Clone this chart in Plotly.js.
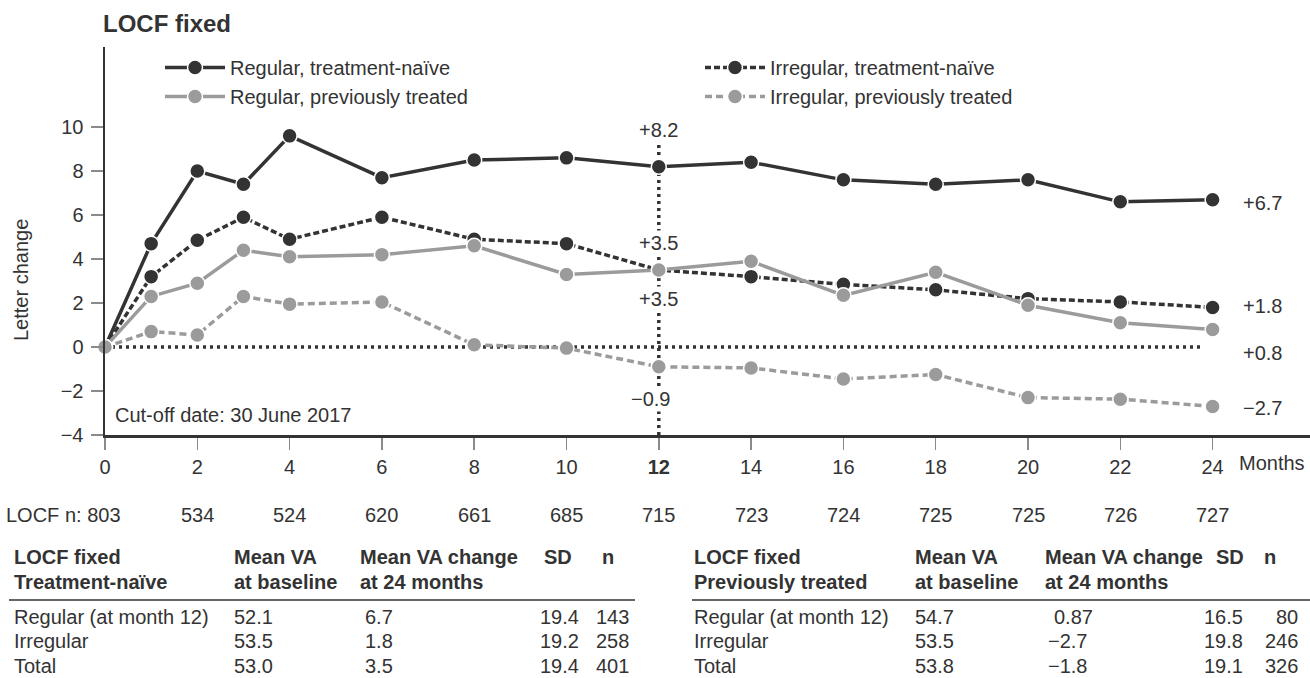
<!DOCTYPE html>
<html>
<head>
<meta charset="utf-8">
<script src="https://cdn.plot.ly/plotly-3.0.1.min.js"></script>
<style>
  html, body { margin: 0; padding: 0; background: #ffffff; }
  #chart { width: 1310px; height: 678px; }
</style>
</head>
<body>
<div id="chart"></div>
<script>
// Mean letter change from baseline, LOCF fixed
const months = [0, 1, 2, 3, 4, 6, 8, 10, 12, 14, 16, 18, 20, 22, 24];
const regularNaive     = [0, 4.7, 8.0, 7.4, 9.6, 7.7, 8.5, 8.6, 8.2, 8.4, 7.6, 7.4, 7.6, 6.6, 6.7];
const irregularNaive   = [0, 3.2, 4.85, 5.9, 4.9, 5.9, 4.9, 4.7, 3.5, 3.2, 2.85, 2.6, 2.2, 2.05, 1.8];
const regularTreated   = [0, 2.3, 2.9, 4.4, 4.1, 4.2, 4.6, 3.3, 3.5, 3.9, 2.35, 3.4, 1.9, 1.1, 0.8];
const irregularTreated = [0, 0.7, 0.55, 2.3, 1.95, 2.05, 0.1, -0.05, -0.9, -0.95, -1.45, -1.25, -2.3, -2.37, -2.7];

const seriesNames = [
  'Regular, treatment-naïve',
  'Irregular, treatment-naïve',
  'Regular, previously treated',
  'Irregular, previously treated'
];

// axis ticks
const xTicks = [0, 2, 4, 6, 8, 10, 12, 14, 16, 18, 20, 22, 24];
const xTickText = ['0', '2', '4', '6', '8', '10', '<b>12</b>', '14', '16', '18', '20', '22', '24'];
const yTicks = [-4, -2, 0, 2, 4, 6, 8, 10];
const yTickText = ['\u22124', '\u22122', '0', '2', '4', '6', '8', '10'];

// value labels at month 12 and month 24
const month12Labels = ['+8.2', '+3.5', '+3.5', '\u22120.9'];
const month24Labels = ['+6.7', '+1.8', '+0.8', '\u22122.7'];

// patients per visit
const nMonths = [0, 2, 4, 6, 8, 10, 12, 14, 16, 18, 20, 22, 24];
const nValues = [803, 534, 524, 620, 661, 685, 715, 723, 724, 725, 725, 726, 727];

// summary tables
const tableHeader = ['Mean VA', 'at baseline', 'Mean VA change', 'at 24 months', 'SD', 'n'];
const rowLabels = ['Regular (at month 12)', 'Irregular', 'Total'];
const naiveBaseline = ['52.1', '53.5', '53.0'];
const naiveChange = ['6.7', '1.8', '3.5'];
const naiveSD = ['19.4', '19.2', '19.4'];
const naiveN = ['143', '258', '401'];
const treatedBaseline = ['54.7', '53.5', '53.8'];
const treatedChange = ['0.87', '\u22122.7', '\u22121.8'];
const treatedSD = ['16.5', '19.8', '19.1'];
const treatedN = ['80', '246', '326'];

// ---- layout geometry ----
const W = 1310, H = 678;
const M = { l: 105, r: 0, t: 47, b: 243 };
const plotW = W - M.l - M.r, plotH = H - M.t - M.b;
const px2x = px => (px - M.l) / plotW;
const px2y = py => (H - M.b - py) / plotH;

const DARK = '#333333';
const GRAY = '#9b9b9b';
const FONT = 'Liberation Sans, Arial, Helvetica, sans-serif';

function series(name, y, color, dash, legend) {
  return {
    x: months, y: y, name: name, type: 'scatter', mode: 'lines+markers',
    line: { color: color, width: 3.5, dash: dash },
    marker: { color: color, size: 15, line: { color: '#ffffff', width: 1.5 } },
    cliponaxis: false, legend: legend, legendgroup: name, hoverinfo: 'x+y'
  };
}

const traces = [
  series(seriesNames[0], regularNaive, DARK, 'solid', 'legend'),
  series(seriesNames[1], irregularNaive, DARK, '6px,3px', 'legend2'),
  series(seriesNames[2], regularTreated, GRAY, 'solid', 'legend'),
  series(seriesNames[3], irregularTreated, GRAY, '7px,4px', 'legend2')
];

const annotations = [];
function txt(px, py, text, anchor, opts) {
  annotations.push(Object.assign({
    xref: 'paper', yref: 'paper', x: px2x(px), y: px2y(py),
    xanchor: anchor || 'left', yanchor: 'middle', showarrow: false,
    text: text, font: { family: FONT, size: 20, color: DARK }
  }, opts || {}));
}

// value labels on the month-12 marker line
const m12Y = [9.85, 4.73, 2.18, -2.36];
month12Labels.forEach((t, i) => {
  annotations.push({
    xref: 'x', yref: 'y', x: 12, y: m12Y[i], text: t, showarrow: false,
    xanchor: 'center', yanchor: 'middle', xshift: t.startsWith('\u2212') ? -8 : 0,
    bgcolor: '#ffffff', borderpad: 1,
    font: { family: FONT, size: 20, color: DARK }
  });
});
// end-of-follow-up labels
const m24Y = [6.55, 1.88, -0.27, -2.75];
month24Labels.forEach((t, i) => {
  annotations.push({
    xref: 'x', yref: 'y', x: 25.55, y: m24Y[i], text: t, showarrow: false,
    xanchor: 'right', yanchor: 'middle',
    font: { family: FONT, size: 20, color: DARK }
  });
});

// axis captions and notes
txt(1237, 463, 'Months', 'left');
txt(113, 415, 'Cut-off date: 30 June 2017', 'left');
annotations.push({
  xref: 'paper', yref: 'paper', x: px2x(21), y: px2y(280), textangle: -90,
  xanchor: 'center', yanchor: 'middle', showarrow: false, text: 'Letter change',
  font: { family: FONT, size: 20, color: DARK }
});

// n per visit row
txt(123, 515, 'LOCF n: ' + nValues[0], 'right');
nMonths.forEach((m, i) => {
  if (i === 0) return;
  annotations.push({
    xref: 'x', yref: 'paper', x: m, y: px2y(515), text: String(nValues[i]),
    xanchor: 'center', yanchor: 'middle', showarrow: false,
    font: { family: FONT, size: 20, color: DARK }
  });
});

// summary tables
const rowY = [617, 641, 666];
function table(x0, cols, title, baseline, change, sd, n) {
  const bold = { font: { family: FONT, size: 20, color: DARK, weight: 700 } };
  txt(x0, 557, 'LOCF fixed', 'left', bold);
  txt(x0, 582, title, 'left', bold);
  txt(cols.base, 557, tableHeader[0], 'left', bold);
  txt(cols.base, 582, tableHeader[1], 'left', bold);
  txt(cols.change, 557, tableHeader[2], 'left', bold);
  txt(cols.change, 582, tableHeader[3], 'left', bold);
  txt(cols.sdHead, 557, tableHeader[4], 'left', bold);
  txt(cols.nHead, 557, tableHeader[5], 'left', bold);
  rowLabels.forEach((lab, i) => {
    txt(x0, rowY[i], lab, 'left');
    txt(cols.base, rowY[i], baseline[i], 'left');
    txt(cols.changeVal + (change[i].startsWith('\u2212') ? -6 : 0), rowY[i], change[i], 'left');
    txt(cols.sdEnd, rowY[i], sd[i], 'right');
    txt(cols.nEnd, rowY[i], n[i], 'right');
  });
}
table(12, { base: 232, change: 358, changeVal: 363, sdHead: 542, nHead: 600, sdEnd: 581, nEnd: 631 },
  'Treatment-naïve', naiveBaseline, naiveChange, naiveSD, naiveN);
table(692, { base: 913, change: 1043, changeVal: 1052, sdHead: 1214, nHead: 1262, sdEnd: 1245, nEnd: 1300 },
  'Previously treated', treatedBaseline, treatedChange, treatedSD, treatedN);

const shapes = [
  // zero reference line
  { type: 'line', xref: 'x', yref: 'y', x0: 0, x1: 23.8, y0: 0, y1: 0,
    line: { color: DARK, width: 3.5, dash: '3px,4px' }, layer: 'below' },
  // month-12 marker line
  { type: 'line', xref: 'x', yref: 'y', x0: 12, x1: 12, y0: -4, y1: 9.3,
    line: { color: DARK, width: 3.5, dash: '3px,4px' }, layer: 'below' },
  // table rules
  { type: 'line', xref: 'paper', yref: 'paper', x0: px2x(9), x1: px2x(635), y0: px2y(600), y1: px2y(600),
    line: { color: DARK, width: 1.5 } },
  { type: 'line', xref: 'paper', yref: 'paper', x0: px2x(692), x1: px2x(1310), y0: px2y(600), y1: px2y(600),
    line: { color: DARK, width: 1.5 } }
];

const axisCommon = {
  showline: true, linecolor: DARK, linewidth: 2.5, mirror: false,
  ticks: 'outside', ticklen: 12, tickwidth: 1.5, tickcolor: '#8a8a8a',
  showgrid: false, zeroline: false, fixedrange: true,
  tickfont: { family: FONT, size: 20, color: DARK }
};

const layout = {
  width: W, height: H, margin: M,
  paper_bgcolor: '#ffffff', plot_bgcolor: '#ffffff',
  font: { family: FONT, size: 20, color: DARK },
  title: {
    text: 'LOCF fixed', xref: 'container', yref: 'container',
    x: 103 / W, xanchor: 'left', y: 1 - 24 / H, yanchor: 'middle',
    font: { family: FONT, size: 24, color: DARK, weight: 700 }
  },
  xaxis: Object.assign({}, axisCommon, {
    range: [0, (W - M.l) / ((1212.6 - M.l) / 24)],
    tickmode: 'array', tickvals: xTicks, ticktext: xTickText
  }),
  yaxis: Object.assign({}, axisCommon, {
    range: [-4, 13.64], tickmode: 'array', tickvals: yTicks, ticktext: yTickText,
    ticklabelstandoff: 3
  }),
  showlegend: true,
  legend: {
    x: px2x(160), y: px2y(48), xanchor: 'left', yanchor: 'top',
    font: { family: FONT, size: 20, color: DARK }, bgcolor: 'rgba(0,0,0,0)',
    itemwidth: 60, tracegroupgap: 3, traceorder: 'normal'
  },
  legend2: {
    x: px2x(700), y: px2y(48), xanchor: 'left', yanchor: 'top',
    font: { family: FONT, size: 20, color: DARK }, bgcolor: 'rgba(0,0,0,0)',
    itemwidth: 60, tracegroupgap: 3, traceorder: 'normal'
  },
  annotations: annotations,
  shapes: shapes
};

Plotly.newPlot('chart', traces, layout, { displayModeBar: false, staticPlot: true });
</script>
</body>
</html>
